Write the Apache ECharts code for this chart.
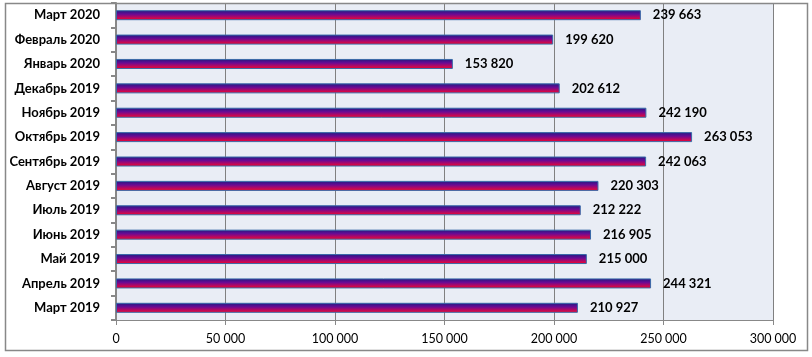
<!DOCTYPE html>
<html><head><meta charset="utf-8">
<script src="https://cdn.jsdelivr.net/npm/echarts@6/dist/echarts.min.js"></script>
<style>html,body{margin:0;padding:0;background:#fff}#c{width:812px;height:357px}</style>
</head><body><div id="c"></div>
<script>
const categories = ['Март 2019','Апрель 2019','Май 2019','Июнь 2019','Июль 2019','Август 2019','Сентябрь 2019','Октябрь 2019','Ноябрь 2019','Декабрь 2019','Январь 2020','Февраль 2020','Март 2020'];
const values = [210927,244321,215000,216905,212222,220303,242063,263053,242190,202612,153820,199620,239663];
const xTicks = {min:0, max:300000, interval:50000};

const fmt = v => String(Math.round(v)).replace(/\B(?=(\d{3})+(?!\d))/g, ' ');
const chart = echarts.init(document.getElementById('c'));
chart.setOption({
  animation:false,
  textStyle:{fontFamily:'Lato'},
  graphic:[{type:'rect',shape:{x:5.5,y:3.5,width:802,height:347},style:{fill:'none',stroke:'#888',lineWidth:1.5},z:100}],
  grid:{left:116,right:39,top:3,bottom:37,show:true,backgroundColor:'#e9edf5',borderWidth:0},
  xAxis:{type:'value',min:xTicks.min,max:xTicks.max,interval:xTicks.interval,
    axisLine:{show:true,lineStyle:{color:'#888',width:1}},
    axisTick:{show:true,length:5,lineStyle:{color:'#888'}},
    splitLine:{show:true,lineStyle:{color:'#808080',width:1}},
    axisLabel:{formatter:fmt,color:'#000',fontSize:12.5,margin:12,fontFamily:'Lato'}},
  yAxis:{type:'category',data:categories,
    axisLine:{show:true,lineStyle:{color:'#888',width:2}},
    axisTick:{show:true,length:5,lineStyle:{color:'#888',width:2}},
    axisLabel:{color:'#000',fontWeight:'bold',fontSize:13,margin:16,fontFamily:'Lato'}},
  series:[{type:'bar',data:values,barWidth:10,
    itemStyle:{borderColor:'#3a6aa8',borderWidth:1,
      color:new echarts.graphic.LinearGradient(0,0,0,1,[
        {offset:0,color:'#1c1c80'},{offset:0.4,color:'#6a0a94'},{offset:0.75,color:'#c0085a'},{offset:1,color:'#ff0018'}])},
    label:{show:true,position:'right',distance:12,formatter:p=>fmt(p.value),color:'#000',fontWeight:'bold',fontSize:13,fontFamily:'Lato'}}]
});
</script></body></html>
